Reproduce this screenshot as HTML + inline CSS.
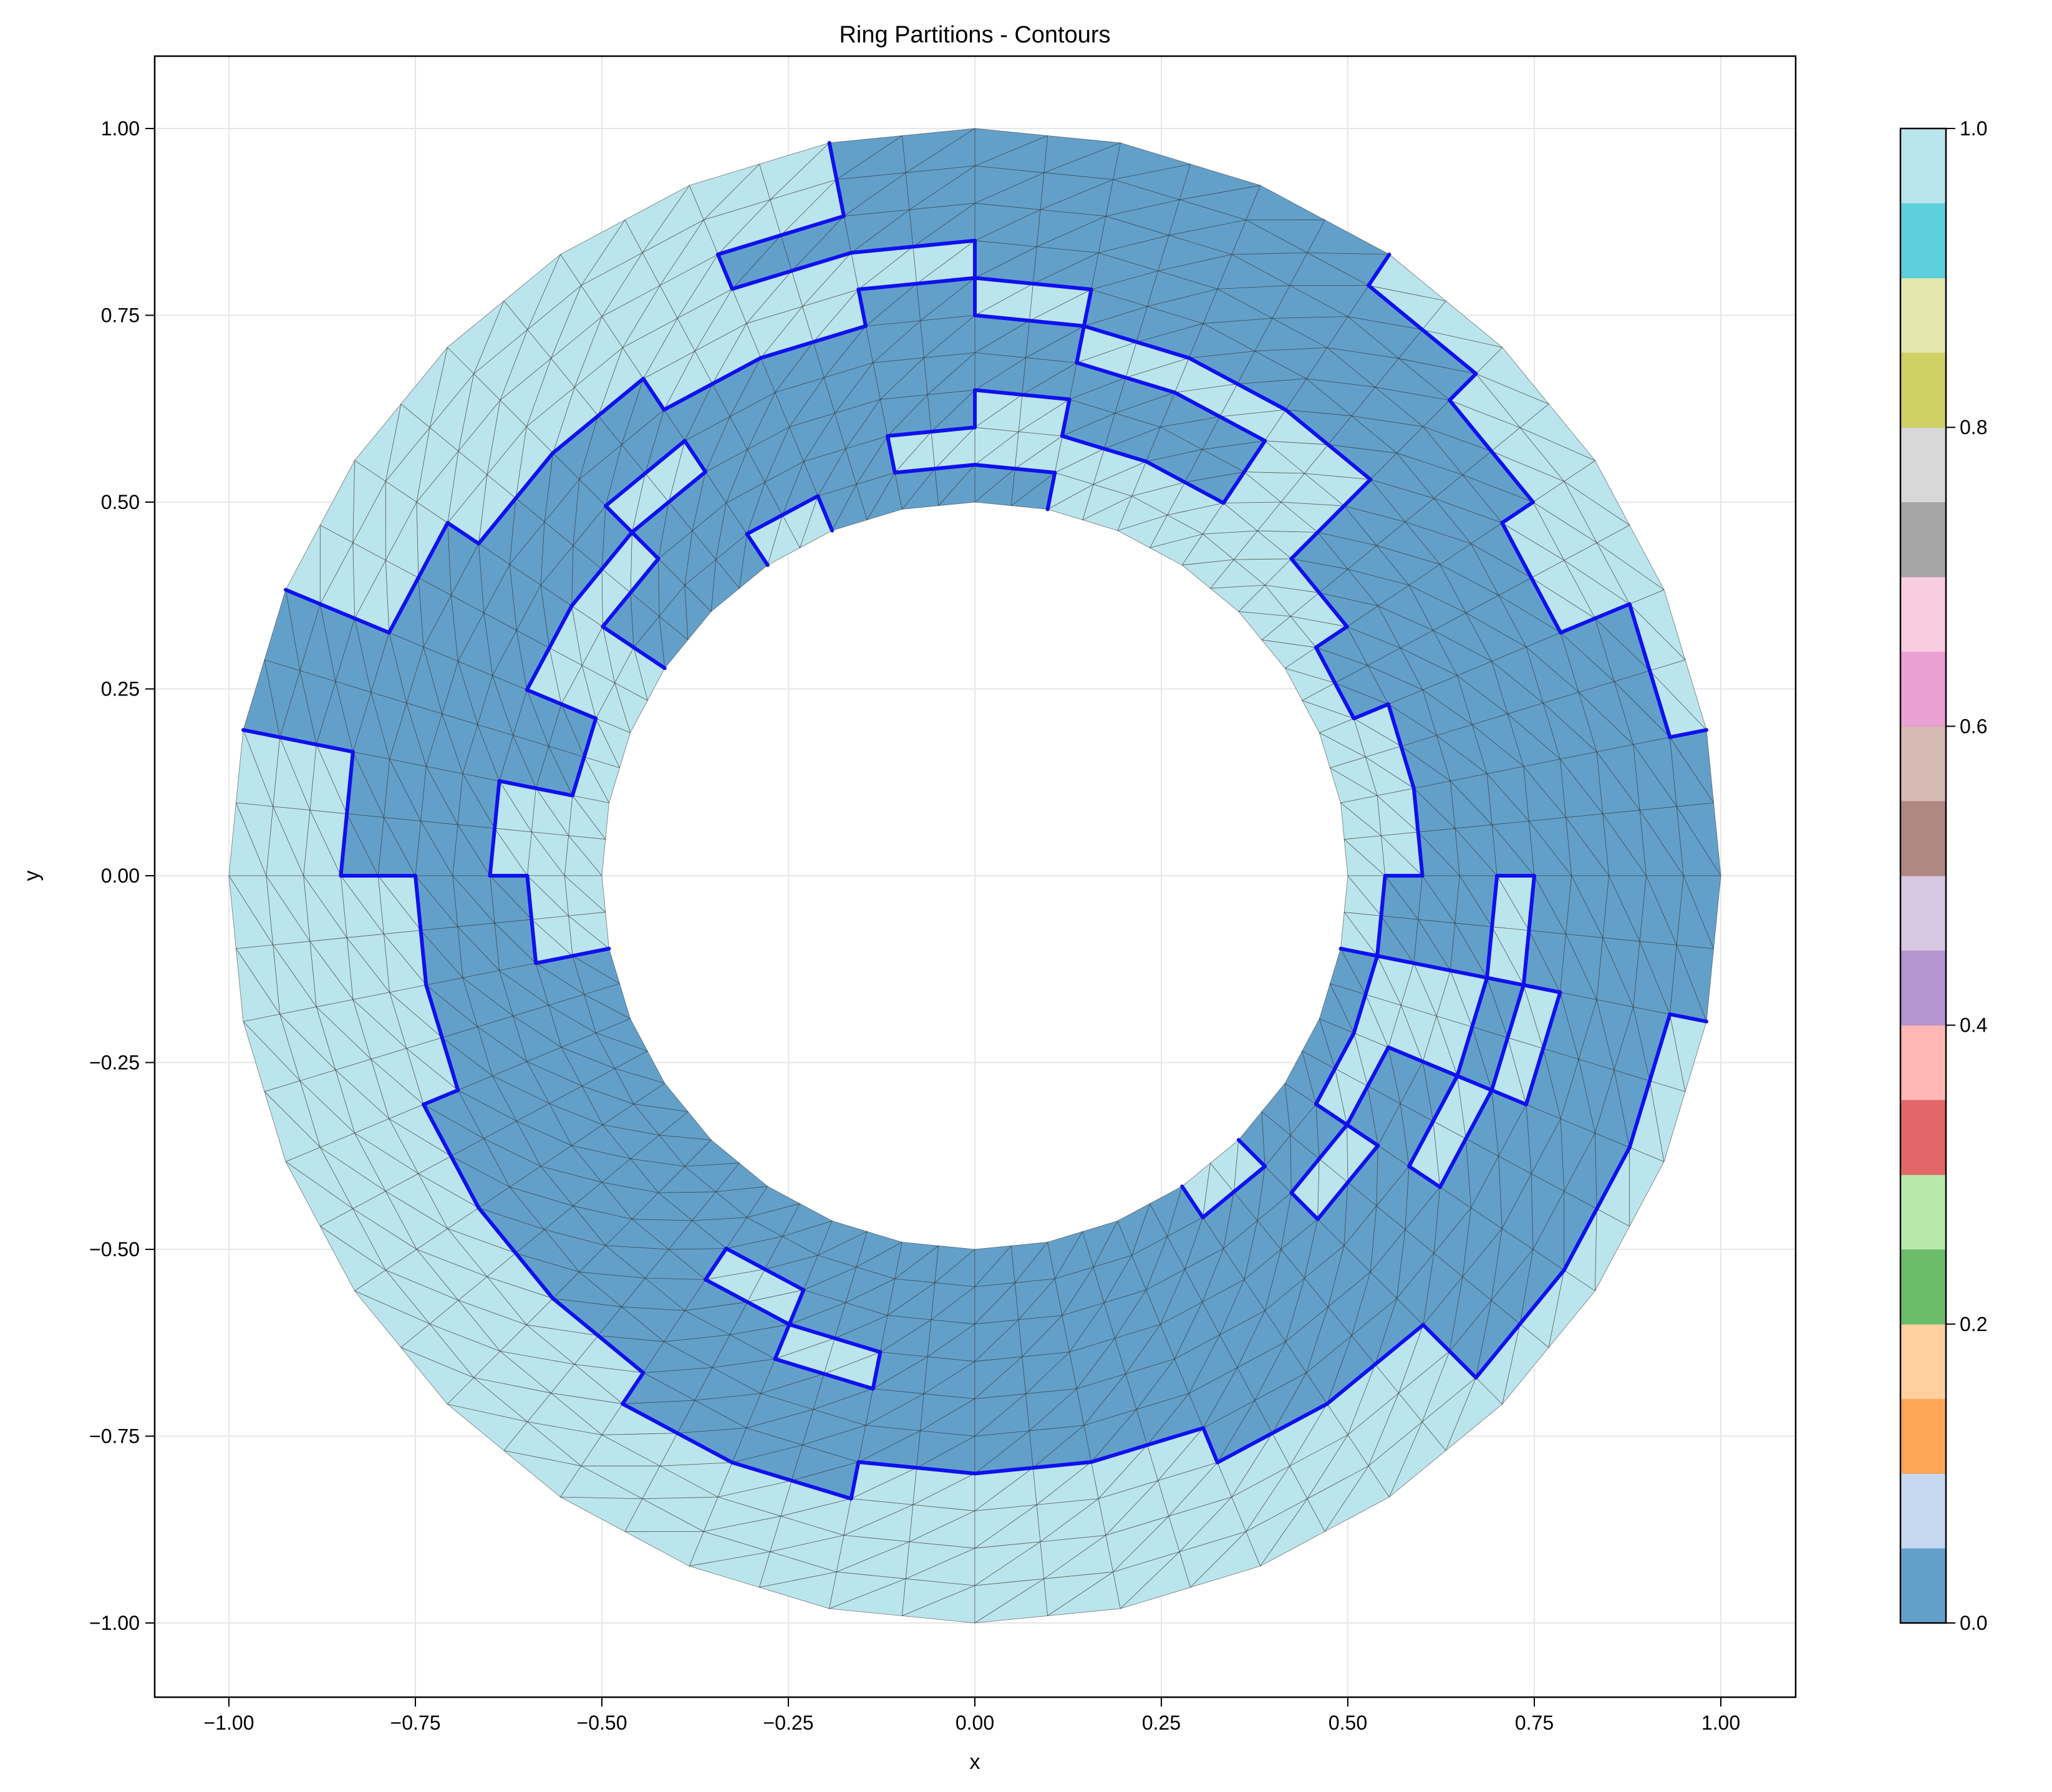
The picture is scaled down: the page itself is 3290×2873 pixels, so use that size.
<!DOCTYPE html>
<html><head><meta charset="utf-8"><style>
html,body{margin:0;padding:0;background:#fff;}
svg{display:block;font-family:"Liberation Sans",sans-serif;}
</style></head><body>
<svg id="chart" width="3290" height="2873" viewBox="0 0 3290 2873" xmlns="http://www.w3.org/2000/svg">
<rect width="3290" height="2873" fill="#fff"/>
<g id="grid"></g>
<g id="mesh"></g>
<g id="contours"></g>
<rect x="248" y="90" width="2631" height="2631" fill="none" stroke="#000" stroke-width="2.5"/>
<g id="ticks"></g>
<text x="1563" y="68" font-size="38" text-anchor="middle">Ring Partitions - Contours</text>
<text x="1563" y="2836" font-size="34" text-anchor="middle">x</text>
<text x="62" y="1404" font-size="34" text-anchor="middle" transform="rotate(-90 62 1404)">y</text>
<g id="cbar"></g>
</svg>
<script>
const ticks = [-1, -0.75, -0.5, -0.25, 0, 0.25, 0.5, 0.75, 1];
const tickLabels = ["−1.00","−0.75","−0.50","−0.25","0.00","0.25","0.50","0.75","1.00"];
const cbarTicks = [0, 0.2, 0.4, 0.6, 0.8, 1.0];
const cbarLabels = ["0.0","0.2","0.4","0.6","0.8","1.0"];
const cbarColors = ["#1f77b4","#aec7e8","#ff7f0e","#ffbb78","#2ca02c","#98df8a","#d62728","#ff9896","#9467bd","#c5b0d5","#8c564b","#c49c94","#e377c2","#f7b6d2","#7f7f7f","#c7c7c7","#bcbd22","#dbdb8d","#17becf","#9edae5"];
const innerR = 0.5, outerR = 1.0;
const sectorValues = [
"0011111111","0011111110","0111111000","0011111100","0000011110","0011011111",
"0011011111","1001101111","1011110111","1111100100","0111100000","1110110000",
"1101110000","0001111000","0111111111","0001111000","0011100000","1111100000",
"1111110000","1111110000","1111110000","1101111000","1110111000","1111110000",
"1111110000","1111110000","1111111000","0111111000","1101111110","1011011110",
"1000101110","0111011111"];

const NS = "http://www.w3.org/2000/svg";
const X = v => 1563 + v * 1196;
const Y = v => 1404 - v * 1198;
function mk(tag, attrs, parent){ const e=document.createElementNS(NS,tag); for(const k in attrs) e.setAttribute(k,attrs[k]); parent.appendChild(e); return e; }
const grid=document.getElementById('grid'), tk=document.getElementById('ticks');
ticks.forEach((t,i)=>{
  const gx=mk('line',{x1:X(t),x2:X(t),y1:90,y2:2721,stroke:'#e6e6e6','stroke-width':2},grid);
  
  
  const gy=mk('line',{x1:248,x2:2879,y1:Y(t),y2:Y(t),stroke:'#e6e6e6','stroke-width':2},grid);
  
  
  mk('line',{x1:X(t),x2:X(t),y1:2721,y2:2736,stroke:'#000','stroke-width':2},tk);
  mk('line',{x1:233,x2:248,y1:Y(t),y2:Y(t),stroke:'#000','stroke-width':2},tk);
  const xl=mk('text',{x:X(t),y:2773,'font-size':32,'text-anchor':'middle'},tk); xl.textContent=tickLabels[i];
  
  
  const yl=mk('text',{x:224,y:Y(t)+11,'font-size':32,'text-anchor':'end'},tk); yl.textContent=tickLabels[i];
  
  
});
const mesh=document.getElementById('mesh'), cont=document.getElementById('contours');
const NSec=sectorValues.length, NL=sectorValues[0].length;
const P=(k,l)=>{const a=k/NSec*2*Math.PI, r=innerR+(outerR-innerR)*l/NL; return [X(r*Math.cos(a)),Y(r*Math.sin(a))];};
const col=v=>v==='1'?'#62a0ca':'#bbe5ec';
for(let k=0;k<NSec;k++){
  for(let l=0;l<NL;l++){
    const v=sectorValues[k][l];
    const a=P(k,l),b=P(k+1,l),c=P(k+1,l+1),d=P(k,l+1);
    const m1=[(a[0]+b[0])/2,(a[1]+b[1])/2], m2=[(d[0]+c[0])/2,(d[1]+c[1])/2];
    const tris=[[a,m1,d],[m1,m2,d],[m1,b,m2],[b,c,m2]];
    tris.forEach(t=>{
      const p=mk('polygon',{points:t.map(q=>q.join(',')).join(' '),fill:col(v),stroke:'#333','stroke-width':0.8,'stroke-opacity':0.65},mesh);
      
      
    });
    if(l+1<NL && sectorValues[k][l+1]!==v){
      const e=mk('line',{x1:d[0],y1:d[1],x2:c[0],y2:c[1],stroke:'#1010ee','stroke-width':6,'stroke-linecap':'round'},cont);
      
      
    }
    const kn=(k+1)%NSec;
    if(sectorValues[kn][l]!==v){
      const e=mk('line',{x1:b[0],y1:b[1],x2:c[0],y2:c[1],stroke:'#1010ee','stroke-width':6,'stroke-linecap':'round'},cont);
      
      
    }
  }
}
const cb=document.getElementById('cbar');
const cbTop=206, cbBot=2602, cbX=3047, cbW=73, segH=(cbBot-cbTop)/cbarColors.length;
cbarColors.forEach((c,i)=>{
  const r=mk('rect',{x:cbX,y:cbBot-(i+1)*segH,width:cbW,height:segH+0.5,fill:c,'fill-opacity':0.7},cb);
  
  
});
mk('rect',{x:cbX,y:cbTop,width:cbW,height:cbBot-cbTop,fill:'none',stroke:'#000','stroke-width':2.5},cb);
cbarTicks.forEach((t,i)=>{
  const y=cbBot-t*(cbBot-cbTop);
  mk('line',{x1:cbX+cbW,x2:cbX+cbW+15,y1:y,y2:y,stroke:'#000','stroke-width':2},cb);
  const l=mk('text',{x:cbX+cbW+22,y:y+11,'font-size':32},cb); l.textContent=cbarLabels[i];
  
  
});
</script>
</body></html>
